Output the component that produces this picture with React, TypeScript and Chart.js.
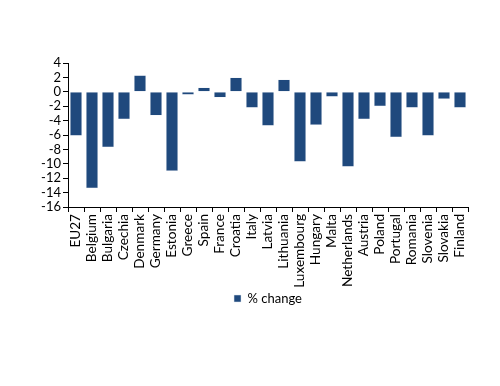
import React, { useEffect, useRef } from "react";
import { Chart, registerables } from "chart.js";

Chart.register(...registerables);

const categories = [
  "EU27", "Belgium", "Bulgaria", "Czechia", "Denmark", "Germany", "Estonia",
  "Greece", "Spain", "France", "Croatia", "Italy", "Latvia", "Lithuania",
  "Luxembourg", "Hungary", "Malta", "Netherlands", "Austria", "Poland",
  "Portugal", "Romania", "Slovenia", "Slovakia", "Finland",
];

const pctChange = [
  -6.1, -13.4, -7.7, -3.8, 2.3, -3.3, -11.0,
  -0.4, 0.6, -0.8, 2.0, -2.2, -4.7, 1.7,
  -9.7, -4.6, -0.7, -10.4, -3.8, -2.0,
  -6.3, -2.2, -6.1, -1.0, -2.2,
];

const seriesLabel = "% change";
const yMin = -16;
const yMax = 4;
const yStep = 2;

export default function App() {
  const ref = useRef<HTMLCanvasElement | null>(null);

  useEffect(() => {
    document.body.style.margin = "0";
    if (!ref.current) return;
    const font = { family: "Lato, sans-serif", size: 13 };
    const xFont = { family: "Lato, sans-serif", size: 13.6 };
    const chart = new Chart(ref.current, {
      type: "bar",
      data: {
        labels: categories,
        datasets: [
          {
            label: seriesLabel,
            data: pctChange,
            backgroundColor: "#1F497D",
            borderColor: "#dfe6ef",
            borderWidth: 0.5,
            categoryPercentage: 1,
            barPercentage: 0.75,
          },
        ],
      },
      options: {
        responsive: false,
        animation: false,
        layout: { padding: { top: 63, right: 32, bottom: 71, left: 0 } },
        plugins: {
          legend: {
            position: "bottom",
            fullSize: false,
            labels: {
              font,
              color: "#000",
              boxWidth: 7,
              boxHeight: 7,
              padding: 3,
            },
          },
          tooltip: { enabled: false },
        },
        scales: {
          x: {
            grid: {
              offset: true,
              drawOnChartArea: false,
              drawTicks: true,
              tickLength: 5,
              color: "#000",
            },
            border: { color: "#000", width: 1 },
            ticks: {
              font: xFont,
              color: "#000",
              maxRotation: 90,
              minRotation: 90,
              autoSkip: false,
              padding: 2,
            },
            afterFit: (s: any) => {
              s.height = 82;
            },
          },
          y: {
            min: yMin,
            max: yMax,
            grid: {
              drawOnChartArea: false,
              drawTicks: true,
              tickLength: 5,
              color: "#000",
            },
            border: { color: "#000", width: 1 },
            ticks: {
              stepSize: yStep,
              font,
              color: "#000",
              padding: 2,
              autoSkip: false,
            },
            afterFit: (s: any) => {
              s.width = 68;
            },
          },
        },
      },
    });
    return () => chart.destroy();
  }, []);

  return (
    <div style={{ position: "absolute", left: 0, top: 0, width: 500, height: 386 }}>
      <canvas ref={ref} width={500} height={386} style={{ width: 500, height: 386 }} />
    </div>
  );
}
